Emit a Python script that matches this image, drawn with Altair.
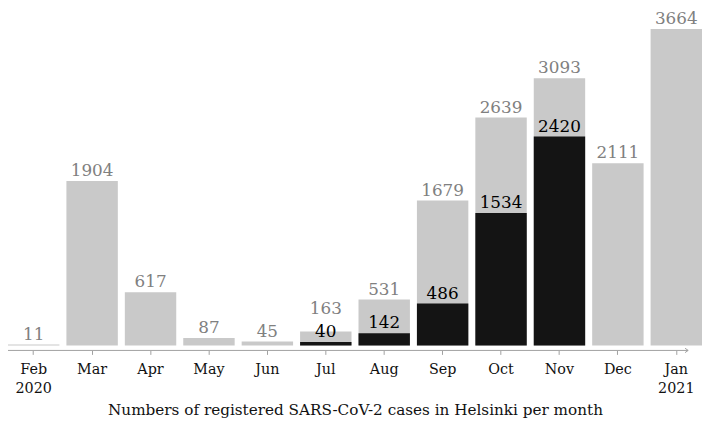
import altair as alt
import pandas as pd

months = ["Feb 2020", "Mar", "Apr", "May", "Jun", "Jul", "Aug", "Sep", "Oct", "Nov", "Dec", "Jan 2021"]
totals = [11, 1904, 617, 87, 45, 163, 531, 1679, 2639, 3093, 2111, 3664]
subset = [None, None, None, None, None, 40, 142, 486, 1534, 2420, None, None]
title_text = "Numbers of registered SARS-CoV-2 cases in Helsinki per month"

df = pd.DataFrame({"month": months, "total": totals, "subset": subset})

W, H = 702, 339
FONT = "DejaVu Serif"
GRAY_BAR = "#c9c9c9"
DARK_BAR = "#141414"
GRAY_TXT = "#808080"
AXIS_GRAY = "#a0a0a0"

xenc = alt.X(
    "month:N",
    sort=months,
    scale=alt.Scale(paddingInner=0.12, paddingOuter=0),
    axis=alt.Axis(
        title=title_text,
        titleFont=FONT,
        titleFontSize=15.4,
        titleFontWeight="normal",
        titleColor="#111111",
        titlePadding=7,
        labelFont=FONT,
        labelFontSize=14.5,
        labelColor="#111111",
        labelAngle=0,
        labelPadding=8,
        labelLineHeight=20,
        labelExpr="split(datum.label, ' ')",
        domain=False,
        ticks=True,
        tickColor=AXIS_GRAY,
        tickSize=4,
        offset=5,
    ),
)
yscale = alt.Scale(domain=[0, 3880], nice=False)
yenc_t = alt.Y("total:Q", scale=yscale, axis=None)
yenc_s = alt.Y("subset:Q", scale=yscale, axis=None)

base = alt.Chart(df)

gray_bars = base.mark_bar(color=GRAY_BAR).encode(x=xenc, y=yenc_t)
dark_bars = base.transform_filter("isValid(datum.subset)").mark_bar(color=DARK_BAR).encode(x=xenc, y=yenc_s)
gray_lbl = base.transform_filter("datum.month != 'Jul'").mark_text(
    font=FONT, fontSize=17, color=GRAY_TXT, baseline="alphabetic", dy=-5
).encode(x=xenc, y=yenc_t, text="total:Q")
gray_lbl_jul = base.transform_filter("datum.month == 'Jul'").mark_text(
    font=FONT, fontSize=17, color=GRAY_TXT, baseline="alphabetic", dy=-18
).encode(x=xenc, y=yenc_t, text="total:Q")
dark_lbl = base.transform_filter("isValid(datum.subset)").mark_text(
    font=FONT, fontSize=17, color="#000000", baseline="alphabetic", dy=-5
).encode(x=xenc, y=yenc_s, text="subset:Q")

axis_line = alt.Chart(pd.DataFrame({"a": [0]})).mark_rule(color=AXIS_GRAY, strokeWidth=1).encode(
    x=alt.value(0), x2=alt.value(W - 14), y=alt.value(H + 5)
)
arrow = alt.Chart(pd.DataFrame({"a": [0]})).mark_point(
    shape="M -1 -0.7 L 0 0 L -1 0.7", filled=False, stroke=AXIS_GRAY, strokeWidth=1, size=40, opacity=1
).encode(x=alt.value(W - 14), y=alt.value(H + 5))

chart = alt.layer(gray_bars, dark_bars, gray_lbl, gray_lbl_jul, dark_lbl, axis_line, arrow).properties(
    width=W,
    height=H,
    autosize=alt.AutoSizeParams(type="none"),
    padding={"left": 0, "top": 0, "right": 0, "bottom": 74},
).configure_view(stroke=None)

chart.save("out.html", embed_options={"renderer": "svg", "actions": False})
